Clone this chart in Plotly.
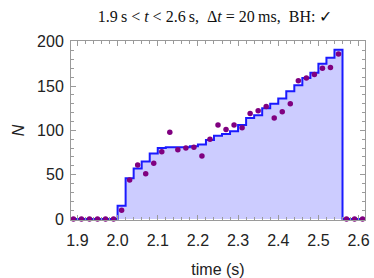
import plotly.graph_objects as go

# Bin centres (s), 20 ms bins
bin_centers = [1.89, 1.91, 1.93, 1.95, 1.97, 1.99,
               2.01, 2.03, 2.05, 2.07, 2.09, 2.11, 2.13, 2.15, 2.17, 2.19,
               2.21, 2.23, 2.25, 2.27, 2.29, 2.31, 2.33, 2.35, 2.37, 2.39,
               2.41, 2.43, 2.45, 2.47, 2.49, 2.51, 2.53, 2.55,
               2.57, 2.59, 2.61]
# Step (histogram) values
step_counts = [0, 0, 0, 0, 0, 0,
               15, 46, 57, 65, 74, 80, 81, 81, 81, 82,
               84, 89, 94, 96, 99, 106, 114, 117, 125, 130,
               136, 144, 151, 159, 165, 175, 182, 191,
               0, 0, 0]
# Point values
dot_counts = [0, 0, 0, 0, 0, 0,
              10, 44, 61, 51, 63, 76, 98, 78, 80, 81,
              71, 90, 106, 101, 106, 103, 119, 122, 127, 114,
              121, 130, 156, 159, 163, 170, 171, 186,
              0, 0, 0]
bin_width = 0.02
x_ticks = [1.9, 2.0, 2.1, 2.2, 2.3, 2.4, 2.5, 2.6]
y_ticks = [0, 50, 100, 150, 200]

edges = [c - bin_width / 2 for c in bin_centers] + [bin_centers[-1] + bin_width / 2]
step_y = step_counts + [step_counts[-1]]

fig = go.Figure()
fig.add_trace(go.Scatter(
    x=edges, y=step_y, mode="lines", line_shape="hv",
    line=dict(color="#1a1aff", width=2),
    fill="tozeroy", fillcolor="rgb(204,204,255)",
    hoverinfo="skip", showlegend=False))
fig.add_trace(go.Scatter(
    x=bin_centers, y=dot_counts, mode="markers",
    marker=dict(color="#800080", size=5.5),
    cliponaxis=False, showlegend=False))

frame = "#9a9a9a"
sans = "Liberation Sans, Arial, sans-serif"
tickfont = dict(family=sans, size=16, color="#222")

fig.update_layout(
    width=374, height=278,
    margin=dict(l=71, r=9, t=41, b=58),
    paper_bgcolor="white", plot_bgcolor="white",
    title=dict(
        text="1.9\u2009s < <i>t</i> < 2.6\u2009s,  \u0394<i>t</i> = 20\u2009ms,  BH: \u2713",
        x=0.575, xanchor="center", y=0.94, yanchor="middle",
        font=dict(family="Liberation Serif, DejaVu Serif, serif", size=16, color="#111")),
    xaxis=dict(
        range=[1.884, 2.616], tickvals=x_ticks, tickformat=".1f",
        ticks="inside", ticklen=5, tickcolor=frame, tickwidth=1,
        minor=dict(ticks="inside", dtick=0.02, tick0=1.9, ticklen=3, tickcolor=frame, showgrid=False),
        showline=True, linecolor=frame, linewidth=1, mirror="allticks",
        showgrid=False, zeroline=False, tickfont=tickfont, ticklabelstandoff=6,
        automargin=False,
        title=dict(text="time (s)", font=dict(family=sans, size=16, color="#222"), standoff=19)),
    yaxis=dict(
        range=[-1.13, 200.8], tickvals=y_ticks,
        ticks="inside", ticklen=5, tickcolor=frame, tickwidth=1,
        minor=dict(ticks="inside", dtick=10, tick0=0, ticklen=3, tickcolor=frame, showgrid=False),
        showline=True, linecolor=frame, linewidth=1, mirror="allticks",
        showgrid=False, zeroline=False, tickfont=tickfont, ticklabelstandoff=3,
        automargin=False,
        title=dict(text="<i>N</i>", font=dict(family=sans, size=16, color="#222"), standoff=8)),
)

fig.write_html("out.html", config={"displayModeBar": False},
               post_script="document.body.style.margin='0px';")
